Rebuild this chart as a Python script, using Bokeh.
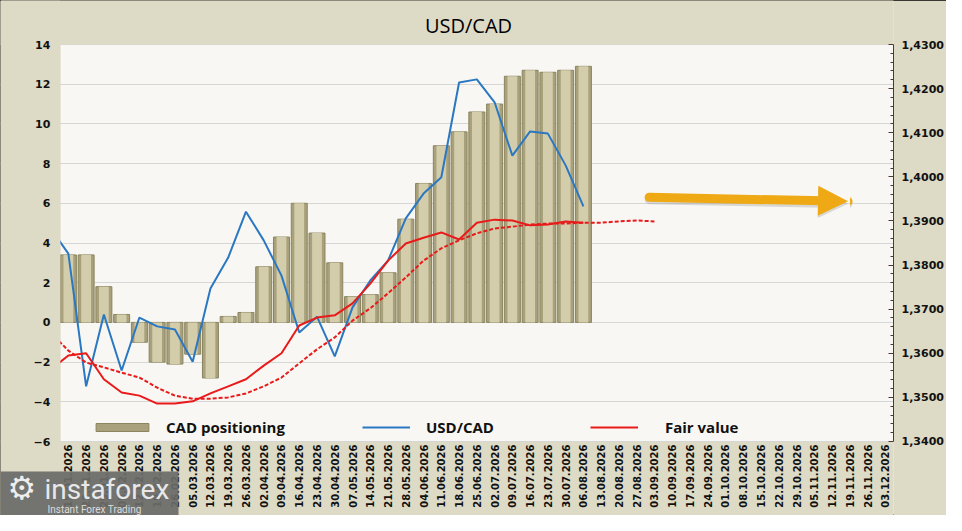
import math
import pandas as pd
from bokeh.plotting import figure
from bokeh.models import (Range1d, LinearAxis, FixedTicker, CustomJSTickFormatter, Legend,
                          LegendItem, Arrow, NormalHead, Label, BoxAnnotation)
from bokeh.embed import file_html
from bokeh.resources import INLINE

# Data ########################################################################

week_labels = ["15.01.2026", "22.01.2026", "29.01.2026", "05.02.2026", "12.02.2026", "19.02.2026",
               "26.02.2026", "05.03.2026", "12.03.2026", "19.03.2026", "26.03.2026", "02.04.2026",
               "09.04.2026", "16.04.2026", "23.04.2026", "30.04.2026", "07.05.2026", "14.05.2026",
               "21.05.2026", "28.05.2026", "04.06.2026", "11.06.2026", "18.06.2026", "25.06.2026",
               "02.07.2026", "09.07.2026", "16.07.2026", "23.07.2026", "30.07.2026", "06.08.2026",
               "13.08.2026", "20.08.2026", "27.08.2026", "03.09.2026", "10.09.2026", "17.09.2026",
               "24.09.2026", "01.10.2026", "08.10.2026", "15.10.2026", "22.10.2026", "29.10.2026",
               "05.11.2026", "12.11.2026", "19.11.2026", "26.11.2026", "03.12.2026"]

# CAD net positioning, bars, left axis
cad_dates = week_labels[:30]
cad_positioning = [3.4, 3.4, 1.8, 0.4, -1.0, -2.0, -2.1, -1.6, -2.8, 0.3,
                   0.5, 2.8, 4.3, 6.0, 4.5, 3.0, 1.3, 1.4, 2.5, 5.2,
                   7.0, 8.9, 9.6, 10.6, 11.0, 12.4, 12.7, 12.6, 12.7, 12.9]

# USD/CAD and fair value, right axis (first point lies left of the visible range)
line_dates = ["08.01.2026"] + week_labels[:30]
usd_cad = [1.3883, 1.3826, 1.3525, 1.3688, 1.3561, 1.3681, 1.3661, 1.3654, 1.3581, 1.3747,
           1.3817, 1.3921, 1.3856, 1.3776, 1.3647, 1.3683, 1.3593, 1.3704, 1.3765, 1.3810,
           1.3906, 1.3962, 1.3999, 1.4214, 1.4221, 1.4169, 1.4048, 1.4103, 1.4098, 1.4026,
           1.3933]
fair_value = [1.3563, 1.3595, 1.3600, 1.3541, 1.3511, 1.3504, 1.3486, 1.3486, 1.3491, 1.3509,
              1.3525, 1.3541, 1.3572, 1.3600, 1.3663, 1.3681, 1.3686, 1.3713, 1.3758, 1.3810,
              1.3849, 1.3862, 1.3874, 1.3858, 1.3896, 1.3903, 1.3901, 1.3890, 1.3892, 1.3899,
              1.3896]

trend_dates = ["08.01.2026"] + week_labels[:34]
fair_trend = [1.3647, 1.3606, 1.3579, 1.3568, 1.3556, 1.3545, 1.3522, 1.3504, 1.3497, 1.3497,
              1.3500, 1.3509, 1.3525, 1.3545, 1.3577, 1.3609, 1.3636, 1.3674, 1.3702, 1.3736,
              1.3772, 1.3810, 1.3838, 1.3856, 1.3872, 1.3883, 1.3887, 1.3892, 1.3894, 1.3894,
              1.3896, 1.3896, 1.3899, 1.3901, 1.3899]

left_ticks = [-6, -4, -2, 0, 2, 4, 6, 8, 10, 12, 14]
right_ticks = [1.34, 1.35, 1.36, 1.37, 1.38, 1.39, 1.40, 1.41, 1.42, 1.43]

# arrow drawn over the chart: (week index, left axis value)
arrow_from = (32.7, 6.3)
arrow_to = (43.9, 6.1)


# Layout ######################################################################
# The frame covers the whole canvas except the right axis, so that title and
# watermark are not clipped away. The visible plot area is a light box from
# x0 to x1 and from -6 to 14.

W, H = 946, 515
x0, x1 = -0.45, 46.46           # visible plot area in week units
x_canvas_left = -3.821          # canvas left edge in week units
y_canvas = (-9.728, 16.217)     # canvas bottom / top in left axis units
usd_canvas = (1.32322, 1.43998) # canvas bottom / top in right axis units

outer_bg = "#dddac6"
plot_bg = "#f8f7f3"
bar_edge = "#a8a17b"
bar_face = "#d4cdab"
blue = "#2a78c2"
red = "#e81a1a"
orange = "#efa915"
axis_font = "DejaVu Sans"
label_font = "Open Sans"


def week_pos(dates):
    d = pd.to_datetime(dates, format="%d.%m.%Y")
    return list((d - pd.Timestamp("2026-01-15")).days / 7.0)


p = figure(width=W, height=H, output_backend="svg", toolbar_location=None,
           x_range=Range1d(x_canvas_left, x1), y_range=Range1d(*y_canvas),
           min_border_left=0, min_border_right=51, min_border_top=0, min_border_bottom=0)
p.extra_y_ranges = {"usd": Range1d(*usd_canvas)}
p.title.visible = False

p.background_fill_color = outer_bg
p.border_fill_color = outer_bg
p.outline_line_color = None
p.styles = {"outline": "1px solid #000000", "outline-offset": "-1px"}

p.add_layout(BoxAnnotation(left=x0, right=x1, bottom=-6, top=14, fill_color=plot_bg,
                           fill_alpha=1, line_color=None, level="image"))

# bars with a simple bevel look
bx = week_pos(cad_dates)
bars = p.vbar(x=bx, top=cad_positioning, bottom=0, width=0.9, fill_color=bar_edge,
              line_color="#8a845f", line_width=1)
p.vbar(x=bx, top=cad_positioning, bottom=0, width=0.55, fill_color=bar_face, line_color=None)

lx = week_pos(line_dates)
blue_r = p.line(lx, usd_cad, color=blue, line_width=2, y_range_name="usd")
red_r = p.line(lx, fair_value, color=red, line_width=2, y_range_name="usd")
p.line(week_pos(trend_dates), fair_trend, color=red, line_width=2, line_dash="4 2",
       y_range_name="usd")

# beige margins left of and above the plot area (hide grid and line stubs there)
p.add_layout(BoxAnnotation(right=x0, fill_color=outer_bg, fill_alpha=1, line_color=None,
                           level="glyph"))
p.add_layout(BoxAnnotation(bottom=14, fill_color=outer_bg, fill_alpha=1, line_color=None,
                           level="glyph"))

p.add_layout(Label(x=468, y=25, x_units="canvas", y_units="canvas", text="USD/CAD",
                   text_align="center", text_baseline="middle", text_font=label_font,
                   text_font_size="20px", text_color="#000000"))

# axes
p.xgrid.grid_line_color = None
p.ygrid.grid_line_color = "#d6d6d6"

p.yaxis.fixed_location = x0
p.yaxis.ticker = FixedTicker(ticks=left_ticks)
p.yaxis.axis_line_color = None
p.yaxis.major_tick_line_color = None
p.yaxis.minor_tick_line_color = None
p.yaxis.major_tick_out = 0
p.yaxis.minor_tick_out = 0
p.yaxis.major_label_text_font = axis_font
p.yaxis.major_label_text_font_style = "bold"
p.yaxis.major_label_text_font_size = "11px"
p.yaxis.major_label_text_color = "#111111"
p.yaxis.major_label_standoff = 10

p.xaxis.fixed_location = -6
p.xaxis.ticker = FixedTicker(ticks=list(range(len(week_labels))))
p.xaxis.major_label_overrides = {i: s for i, s in enumerate(week_labels)}
p.xaxis.major_label_orientation = math.pi / 2
p.xaxis.axis_line_color = None
p.xaxis.major_tick_line_color = None
p.xaxis.minor_tick_line_color = None
p.xaxis.major_tick_out = 0
p.xaxis.minor_tick_out = 0
p.xaxis.major_label_text_font = axis_font
p.xaxis.major_label_text_font_style = "bold"
p.xaxis.major_label_text_font_size = "10px"
p.xaxis.major_label_text_color = "#111111"
p.xaxis.major_label_standoff = 3

minor = [t + k * 0.002 for t in right_ticks[:-1] for k in range(1, 5)]
right = LinearAxis(y_range_name="usd", bounds=(right_ticks[0], right_ticks[-1]),
                   ticker=FixedTicker(ticks=right_ticks, minor_ticks=minor))
right.formatter = CustomJSTickFormatter(code="return tick.toFixed(4).replace('.', ',');")
right.axis_line_color = "#4a3a30"
right.major_tick_in = 5
right.major_tick_out = 0
right.minor_tick_in = 3
right.minor_tick_out = 0
right.major_tick_line_color = "#4a3a30"
right.minor_tick_line_color = "#4a3a30"
right.major_label_text_font = axis_font
right.major_label_text_font_style = "bold"
right.major_label_text_font_size = "11px"
right.major_label_text_color = "#111111"
right.major_label_standoff = 8
p.add_layout(right, "right")


# legends, one per item so the spacing matches the original
def add_legend(label, renderer, x, glyph_w, glyph_h, standoff):
    lg = Legend(items=[LegendItem(label=label, renderers=[renderer])], location=(x, 78),
                orientation="horizontal", padding=0, margin=0, spacing=0,
                glyph_width=glyph_w, glyph_height=glyph_h, label_standoff=standoff,
                label_height=20, background_fill_alpha=0, border_line_color=None,
                label_text_font=label_font, label_text_font_style="bold",
                label_text_font_size="15px", label_text_color="#111111")
    p.add_layout(lg, "center")


add_legend("CAD positioning", bars, 89, 66, 10, 11)
add_legend("USD/CAD", blue_r, 362, 48, 20, 16)
add_legend("Fair value", red_r, 590, 48, 20, 27)

# orange arrow with a faint shadow
p.add_layout(Arrow(x_start=arrow_from[0], y_start=arrow_from[1] - 0.12,
                   x_end=arrow_to[0], y_end=arrow_to[1] - 0.12,
                   line_color="#9a9a9a", line_alpha=0.35, line_width=9, line_cap="round",
                   end=NormalHead(size=30, fill_color="#9a9a9a", fill_alpha=0.35, line_color=None)))
p.add_layout(Arrow(x_start=arrow_from[0], y_start=arrow_from[1],
                   x_end=arrow_to[0], y_end=arrow_to[1],
                   line_color=orange, line_width=9, line_cap="round",
                   end=NormalHead(size=30, fill_color=orange, line_color=None)))

# watermark in the bottom-left corner (canvas units, origin top-left)
p.add_layout(BoxAnnotation(left=0, right=178, top=H - 44, bottom=H,
                           left_units="canvas", right_units="canvas",
                           top_units="canvas", bottom_units="canvas",
                           fill_color="#6a6a68", fill_alpha=0.93, line_color=None))
p.add_layout(Label(x=7, y=H - 9, x_units="canvas", y_units="canvas", text="\u2699",
                   text_font="DejaVu Sans", text_font_size="32px", text_color="#eeeeee"))
p.add_layout(Label(x=44, y=H - 10, x_units="canvas", y_units="canvas", text="instaforex",
                   text_font="Roboto", text_font_size="28px", text_color="#e8e8e8"))
p.add_layout(Label(x=47, y=H - 1, x_units="canvas", y_units="canvas",
                   text="Instant Forex Trading", text_font="Roboto",
                   text_font_size="10px", text_color="#dddddd"))

open("out.html", "w").write(file_html(p, INLINE))
